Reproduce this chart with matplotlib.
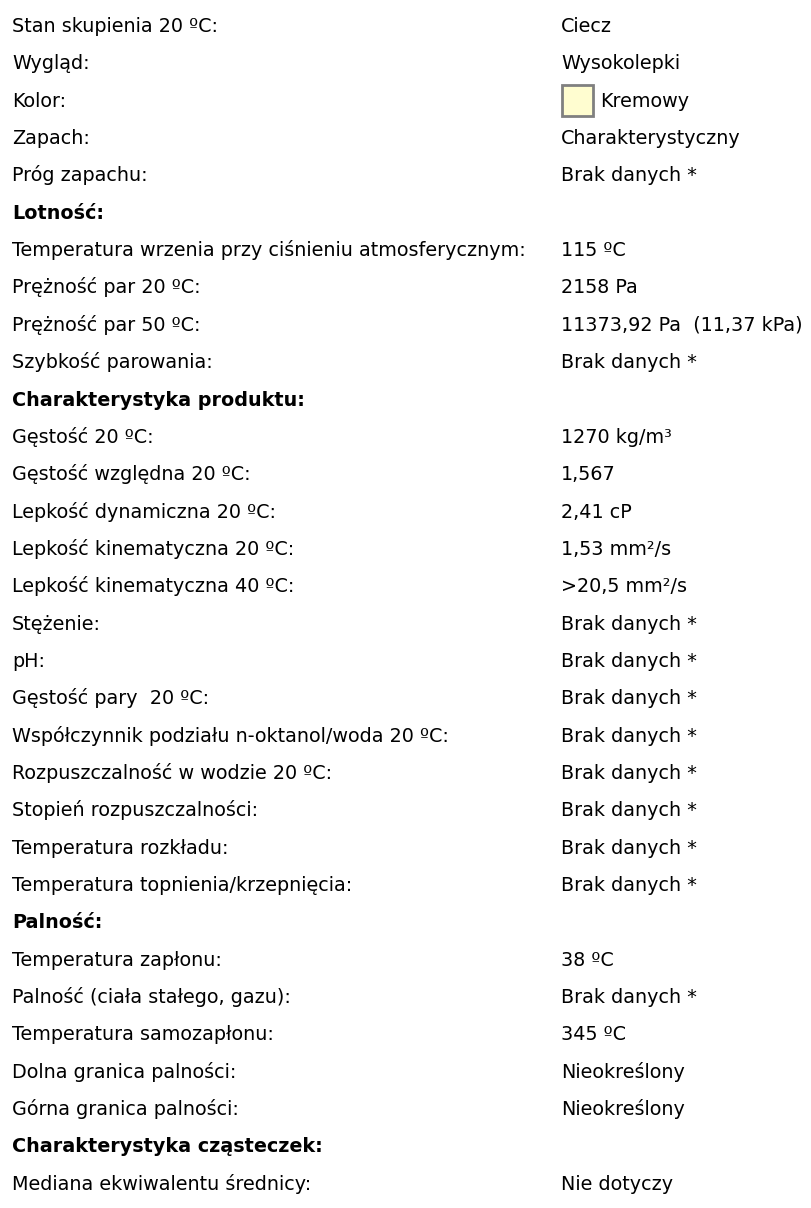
import matplotlib.pyplot as plt
from matplotlib.patches import Rectangle

# Dane ========================================================================
labels = [
    'Stan skupienia 20 ºC:', 'Wygląd:', 'Kolor:', 'Zapach:', 'Próg zapachu:',
    'Lotność:',
    'Temperatura wrzenia przy ciśnieniu atmosferycznym:', 'Prężność par 20 ºC:',
    'Prężność par 50 ºC:', 'Szybkość parowania:',
    'Charakterystyka produktu:',
    'Gęstość 20 ºC:', 'Gęstość względna 20 ºC:', 'Lepkość dynamiczna 20 ºC:',
    'Lepkość kinematyczna 20 ºC:', 'Lepkość kinematyczna 40 ºC:', 'Stężenie:',
    'pH:', 'Gęstość pary  20 ºC:', 'Współczynnik podziału n-oktanol/woda 20 ºC:',
    'Rozpuszczalność w wodzie 20 ºC:', 'Stopień rozpuszczalności:',
    'Temperatura rozkładu:', 'Temperatura topnienia/krzepnięcia:',
    'Palność:',
    'Temperatura zapłonu:', 'Palność (ciała stałego, gazu):',
    'Temperatura samozapłonu:', 'Dolna granica palności:',
    'Górna granica palności:',
    'Charakterystyka cząsteczek:',
    'Mediana ekwiwalentu średnicy:',
]
values = [
    'Ciecz', 'Wysokolepki', 'Kremowy', 'Charakterystyczny', 'Brak danych *',
    '',
    '115 ºC', '2158 Pa', '11373,92 Pa  (11,37 kPa)', 'Brak danych *',
    '',
    '1270 kg/m³', '1,567', '2,41 cP', '1,53 mm²/s', '>20,5 mm²/s',
    'Brak danych *', 'Brak danych *', 'Brak danych *', 'Brak danych *',
    'Brak danych *', 'Brak danych *', 'Brak danych *', 'Brak danych *',
    '',
    '38 ºC', 'Brak danych *', '345 ºC', 'Nieokreślony', 'Nieokreślony',
    '',
    'Nie dotyczy',
]
headers = ['Lotność:', 'Charakterystyka produktu:', 'Palność:',
           'Charakterystyka cząsteczek:']
kolor_probki = '#FFFDD0'

# Wizualizacja ================================================================
fig = plt.figure(figsize=(8.11, 12.08), dpi=100)
ax = fig.add_axes([0, 0, 1, 1])
ax.set_xlim(0, 811)
ax.set_ylim(1208, 0)
ax.axis('off')

fs = 13.8
y0, dy = 32, 37.35   # linia bazowa pierwszego wiersza, odstep wierszy (px)
x_lab, x_val = 12, 561

for i, (lab, val) in enumerate(zip(labels, values)):
    y = y0 + i * dy
    ax.text(x_lab, y, lab, fontsize=fs, va='baseline', color='black',
            fontweight='bold' if lab in headers else 'normal')
    if val == 'Kremowy':
        # probka koloru
        ax.add_patch(Rectangle((x_val + 0.5, y - 21.5), 31, 31,
                               facecolor=kolor_probki, edgecolor='#808080',
                               linewidth=2))
        ax.text(x_val + 39, y, val, fontsize=fs, va='baseline', color='black')
    elif val:
        ax.text(x_val, y, val, fontsize=fs, va='baseline', color='black')

plt.savefig('out.png', dpi=100)
